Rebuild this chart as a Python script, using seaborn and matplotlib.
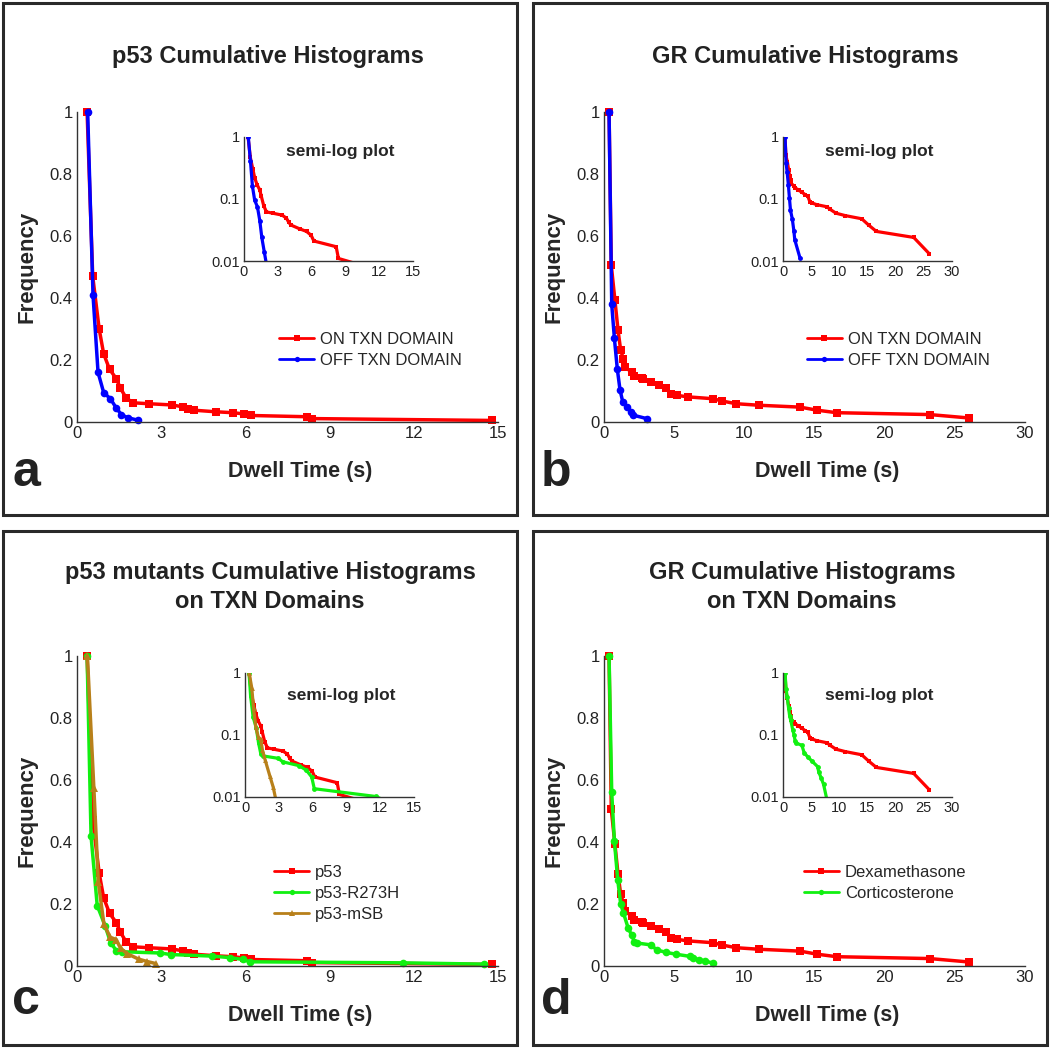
import matplotlib
matplotlib.use("Agg")
import matplotlib.pyplot as plt
import seaborn as sns
from matplotlib.patches import Rectangle
from matplotlib.ticker import NullLocator

# ---- data (dwell time in s, cumulative frequency) ----
p53_on_t = [0.36, 0.56, 0.79, 0.95, 1.16, 1.40, 1.54, 1.75, 1.99, 2.55, 3.38, 3.77,
            3.97, 4.17, 4.94, 5.55, 5.96, 6.20, 8.18, 8.38, 14.79]
p53_on_f = [1.0, 0.47, 0.30, 0.22, 0.17, 0.14, 0.11, 0.078, 0.062, 0.059, 0.055, 0.049,
            0.042, 0.038, 0.033, 0.030, 0.026, 0.021, 0.017, 0.011, 0.005]

p53_off_t = [0.38, 0.57, 0.75, 0.95, 1.19, 1.40, 1.58, 1.80, 2.19]
p53_off_f = [1.0, 0.41, 0.16, 0.095, 0.075, 0.045, 0.024, 0.014, 0.0055]

gr_on_t = [0.36, 0.52, 0.78, 1.0, 1.19, 1.38, 1.50, 1.97, 2.16, 2.68, 2.8, 3.33, 3.92,
           4.42, 4.75, 5.18, 6.0, 7.79, 8.38, 9.41, 11.05, 13.97, 15.2, 16.58, 23.2, 26.0]
gr_on_f = [1.0, 0.505, 0.392, 0.296, 0.231, 0.204, 0.177, 0.161, 0.15, 0.142, 0.138, 0.129,
           0.118, 0.11, 0.091, 0.086, 0.081, 0.075, 0.068, 0.059, 0.054, 0.048, 0.038,
           0.030, 0.024, 0.013]

gr_off_t = [0.36, 0.55, 0.74, 0.95, 1.14, 1.33, 1.66, 1.92, 2.09, 3.04]
gr_off_f = [1.0, 0.38, 0.27, 0.17, 0.104, 0.066, 0.047, 0.031, 0.022, 0.011]

r273h_t = [0.36, 0.50, 0.72, 1.0, 1.20, 1.40, 1.60, 2.96, 3.34, 4.80, 5.45, 5.92, 6.15,
           11.6, 14.5]
r273h_f = [1.0, 0.42, 0.195, 0.13, 0.075, 0.050, 0.046, 0.042, 0.037, 0.032, 0.027,
           0.021, 0.0136, 0.0102, 0.006]

msb_t = [0.37, 0.60, 0.76, 0.96, 1.18, 1.40, 1.55, 1.78, 2.20, 2.50, 2.80]
msb_f = [1.0, 0.575, 0.27, 0.135, 0.093, 0.085, 0.057, 0.040, 0.022, 0.0145, 0.008]

cort_t = [0.36, 0.55, 0.74, 0.98, 1.19, 1.38, 1.73, 1.97, 2.16, 2.38, 3.35, 3.75, 4.42,
          5.13, 6.13, 6.37, 6.8, 7.2, 7.8]
cort_f = [1.0, 0.56, 0.404, 0.277, 0.20, 0.172, 0.121, 0.10, 0.079, 0.074, 0.068, 0.052,
          0.044, 0.038, 0.031, 0.025, 0.020, 0.016, 0.009]

main_yticks = [0, 0.2, 0.4, 0.6, 0.8, 1]
main_yticklabels = ["0", "0.2", "0.4", "0.6", "0.8", "1"]
log_yticks = [0.01, 0.1, 1]
log_yticklabels = ["0.01", "0.1", "1"]
xticks_15 = [0, 3, 6, 9, 12, 15]
xticks_30 = [0, 5, 10, 15, 20, 25, 30]

RED, BLUE, GREEN, BROWN = "#ff0000", "#0000ff", "#11f011", "#b8801a"

panels = [
    dict(frame=(3, 3, 517, 515), main=(77, 112, 498, 422), inset=(244, 137, 413, 261),
         xmax=15, xticks=xticks_15, title=["p53 Cumulative Histograms"], title_x=268,
         title_y=[57], letter="a", letter_xy=(12, 486), leg=(0.48, 0.29), semi_y=0.88,
         series=[(p53_on_t, p53_on_f, "ON TXN DOMAIN", RED, "s"),
                 (p53_off_t, p53_off_f, "OFF TXN DOMAIN", BLUE, "o")]),
    dict(frame=(533, 3, 1047, 515), main=(604, 112, 1025, 422), inset=(783, 137, 952, 261),
         xmax=30, xticks=xticks_30, title=["GR Cumulative Histograms"], title_x=805,
         title_y=[57], letter="b", letter_xy=(541, 486), leg=(0.482, 0.29), semi_y=0.88,
         series=[(gr_on_t, gr_on_f, "ON TXN DOMAIN", RED, "s"),
                 (gr_off_t, gr_off_f, "OFF TXN DOMAIN", BLUE, "o")]),
    dict(frame=(3, 531, 517, 1045), main=(77, 656, 498, 966), inset=(245, 673, 414, 797),
         xmax=15, xticks=xticks_15,
         title=["p53 mutants Cumulative Histograms", "on TXN Domains"], title_x=270,
         title_y=[572, 601], letter="c", letter_xy=(12, 1014), leg=(0.468, 0.325),
         semi_y=0.82,
         series=[(p53_on_t, p53_on_f, "p53", RED, "s"),
                 (r273h_t, r273h_f, "p53-R273H", GREEN, "o"),
                 (msb_t, msb_f, "p53-mSB", BROWN, "^")]),
    dict(frame=(533, 531, 1047, 1045), main=(604, 656, 1025, 966), inset=(783, 673, 952, 797),
         xmax=30, xticks=xticks_30, title=["GR Cumulative Histograms", "on TXN Domains"],
         title_x=802, title_y=[572, 601], letter="d", letter_xy=(541, 1014),
         leg=(0.475, 0.325), semi_y=0.82,
         series=[(gr_on_t, gr_on_f, "Dexamethasone", RED, "s"),
                 (cort_t, cort_f, "Corticosterone", GREEN, "o")]),
]

W, H = 1050, 1048


def box(x0, y0, x1, y1):
    return [x0 / W, 1 - y1 / H, (x1 - x0) / W, (y1 - y0) / H]


def style_axes(ax, size):
    for side in ["top", "right"]:
        ax.spines[side].set_visible(False)
    for side in ["left", "bottom"]:
        ax.spines[side].set_color("#333333")
        ax.spines[side].set_linewidth(1.0)
    ax.tick_params(direction="in", length=4, width=0.8, labelsize=size, pad=3,
                   colors="#222222")
    ax.set_facecolor("none")


sns.set_style("white")
plt.rcParams["font.family"] = ["Liberation Sans", "DejaVu Sans"]

fig = plt.figure(figsize=(W / 100, H / 100), dpi=100)

for p in panels:
    x0, y0, x1, y1 = p["frame"]
    fig.patches.append(Rectangle((x0 / W, 1 - y1 / H), (x1 - x0) / W, (y1 - y0) / H,
                                 transform=fig.transFigure, fill=False,
                                 edgecolor="#2a2a2a", linewidth=2.2))

    # main linear plot
    ax = fig.add_axes(box(*p["main"]))
    for t, f, lab, col, mk in p["series"]:
        sns.lineplot(x=t, y=f, ax=ax, sort=False, estimator=None, color=col, marker=mk,
                     markersize=6 if mk != "o" else 5.5, markeredgewidth=0,
                     linewidth=2.5, label=lab)
    ax.set_xlim(0, p["xmax"])
    ax.set_ylim(0, 1)
    ax.set_xticks(p["xticks"])
    ax.set_xticklabels([str(v) for v in p["xticks"]])
    ax.set_yticks(main_yticks)
    ax.set_yticklabels(main_yticklabels)
    style_axes(ax, 12)
    ax.set_xlabel("Dwell Time (s)", fontsize=15.5, fontweight="bold")
    ax.set_ylabel("Frequency", fontsize=16, fontweight="bold")
    ax.xaxis.set_label_coords(0.53, -0.125)
    ax.yaxis.set_label_coords(-0.095, 0.5)
    for line in ax.get_lines():
        line.set_clip_on(False)
    leg = ax.legend(loc="upper left", bbox_to_anchor=p["leg"], frameon=False, fontsize=12,
                    handlelength=2.1, handletextpad=0.35, labelspacing=0.35,
                    borderpad=0, borderaxespad=0, markerscale=0.7)
    for h in leg.legend_handles:
        h.set_linewidth(2.0)

    # semi-log inset
    ins = fig.add_axes(box(*p["inset"]))
    for t, f, lab, col, mk in p["series"]:
        sns.lineplot(x=t, y=f, ax=ins, sort=False, estimator=None, color=col, marker=mk,
                     markersize=3.5, markeredgewidth=0, linewidth=2.3, legend=False)
    ins.set_yscale("log")
    ins.set_xlim(0, p["xmax"])
    ins.set_ylim(0.01, 1)
    ins.set_xticks(p["xticks"])
    ins.set_xticklabels([str(v) for v in p["xticks"]])
    ins.set_yticks(log_yticks)
    ins.set_yticklabels(log_yticklabels)
    ins.yaxis.set_minor_locator(NullLocator())
    style_axes(ins, 10.5)
    ins.set_xlabel("")
    ins.set_ylabel("")
    ins.text(0.57, p["semi_y"], "semi-log plot", transform=ins.transAxes, ha="center",
             va="center", fontsize=12.5, fontweight="bold")

    # titles and panel letter
    for line_text, ty in zip(p["title"], p["title_y"]):
        fig.text(p["title_x"] / W, 1 - ty / H, line_text, ha="center", va="center",
                 fontsize=17, fontweight="bold", color="#222222")
    lx, ly = p["letter_xy"]
    fig.text(lx / W, 1 - ly / H, p["letter"], ha="left", va="baseline", fontsize=36,
             fontweight="bold", color="#222222")

fig.savefig("out.png", dpi=100, facecolor="white")
